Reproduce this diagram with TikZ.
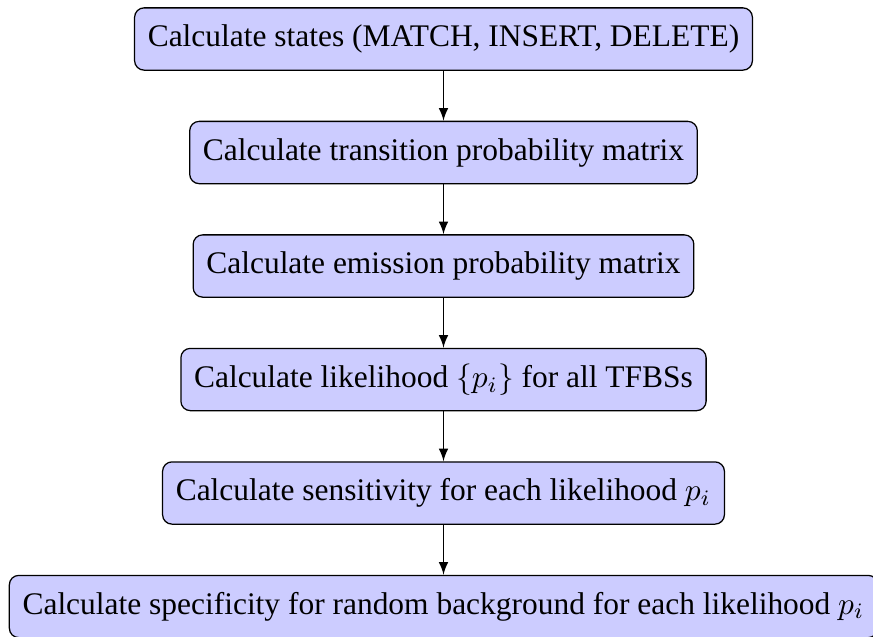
\documentclass[tikz,border=0pt]{standalone}
\usepackage{fontspec}
\setmainfont{Liberation Serif}
\usetikzlibrary{arrows}
\tikzset{
  stepbox/.style={rectangle, draw=black, fill=blue!20, rounded corners=3pt,
    inner sep=4.2pt, minimum height=19.8pt, align=center, line width=0.4pt},
  flowarrow/.style={draw=black, line width=0.4pt, -latex}
}
\begin{document}
\begin{tikzpicture}[x=0.318pt, y=-0.318pt]
  \useasboundingbox (0,0) rectangle (873,636);
  \node[stepbox] (s1) at (443.5,39)    {Calculate states (MATCH, INSERT, DELETE)};
  \node[stepbox] (s2) at (443.5,152.5) {Calculate transition probability matrix};
  \node[stepbox] (s3) at (443.5,266)   {Calculate emission probability matrix};
  \node[stepbox] (s4) at (443.5,379.5) {Calculate likelihood $\{p_i\}$ for all TFBSs};
  \node[stepbox] (s5) at (443.5,493)   {Calculate sensitivity for each likelihood $p_i$};
  \node[stepbox] (s6) at (443.5,606.5) {Calculate specificity for random background for each likelihood $p_i$};
  \draw[flowarrow] (s1) -- (s2);
  \draw[flowarrow] (s2) -- (s3);
  \draw[flowarrow] (s3) -- (s4);
  \draw[flowarrow] (s4) -- (s5);
  \draw[flowarrow] (s5) -- (s6);
\end{tikzpicture}
\end{document}
